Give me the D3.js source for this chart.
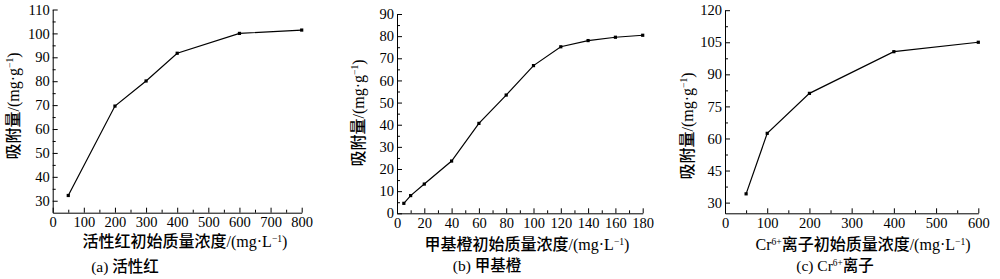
<!DOCTYPE html>
<html>
<head>
<meta charset="utf-8">
<script src="https://cdn.jsdelivr.net/npm/d3@7/dist/d3.min.js"></script>
<style>
body { margin: 0; background: #fff; }
</style>
</head>
<body>
<script>
// Size of the whole figure
var width = 1000;
var height = 279;

// (a) 活性红
var aConc = [50, 200, 300, 400, 600, 800];
var aQ = [32.2, 69.6, 80.1, 91.7, 100.0, 101.4];
var aXTicks = [0, 100, 200, 300, 400, 500, 600, 700, 800];
var aYTicks = [30, 40, 50, 60, 70, 80, 90, 100, 110];

// (b) 甲基橙
var bConc = [5, 10, 20, 40, 60, 80, 100, 120, 140, 160, 180];
var bQ = [4.5, 8.0, 13.2, 23.6, 40.6, 53.4, 66.7, 75.2, 78.0, 79.5, 80.4];
var bXTicks = [0, 20, 40, 60, 80, 100, 120, 140, 160, 180];
var bYTicks = [0, 10, 20, 30, 40, 50, 60, 70, 80, 90];

// (c) Cr6+ 离子
var cConc = [50, 100, 200, 400, 600];
var cQ = [34.1, 62.4, 81.1, 100.6, 105.0];
var cXTicks = [0, 100, 200, 300, 400, 500, 600];
var cYTicks = [30, 45, 60, 75, 90, 105, 120];

var serif = "'Liberation Serif', 'Times New Roman', 'Noto Sans CJK SC', serif";

var svg = d3.select("body")
	.append("svg")
	.attr("width", width)
	.attr("height", height)
	.style("font-family", serif);

// panel settings (pixel placement of each plot)
var panels = [
	{
		conc: aConc, q: aQ, xTicks: aXTicks, yTicks: aYTicks,
		xDomain: [0, 800], yDomain: [25, 110],
		left: 52.7, right: 301.7, top: 9.5, bottom: 212.7,
		yTitle: [13, 106], xTitle: [185, 247], caption: [125, 272],
		xLabel: [["活性红初始质量浓度/(mg·L", false], ["−1", true], [")", false]],
		capLabel: [["(a) 活性红", false]]
	},
	{
		conc: bConc, q: bQ, xTicks: bXTicks, yTicks: bYTicks,
		xDomain: [0, 180], yDomain: [0, 90],
		left: 397, right: 642.7, top: 14, bottom: 213.3,
		yTitle: [358, 113], xTitle: [527, 250], caption: [487, 271],
		xLabel: [["甲基橙初始质量浓度/(mg·L", false], ["−1", true], [")", false]],
		capLabel: [["(b) 甲基橙", false]]
	},
	{
		conc: cConc, q: cQ, xTicks: cXTicks, yTicks: cYTicks,
		xDomain: [0, 600], yDomain: [25, 120],
		left: 725, right: 978.3, top: 10.2, bottom: 213.3,
		yTitle: [687, 126], xTitle: [863, 250], caption: [835, 271],
		xLabel: [["Cr", false], ["6+", true], ["离子初始质量浓度/(mg·L", false], ["−1", true], [")", false]],
		capLabel: [["(c) Cr", false], ["6+", true], ["离子", false]]
	}
];

var yLabel = [["吸附量/(mg·g", false], ["−1", true], [")", false]];

// write a label made of normal and superscript parts
function addParts(text, parts) {
	parts.forEach(function(p) {
		var t = text.append("tspan").text(p[0]);
		if (p[1]) {
			t.attr("font-size", "0.6em").attr("dy", "-0.55em");
		} else if (text.selectAll("tspan").size() > 1) {
			t.attr("dy", "0.33em");
		}
	});
}

// points halfway between the major ticks
function midTicks(ticks) {
	var m = [];
	for (var i = 0; i < ticks.length - 1; i++) m.push((ticks[i] + ticks[i + 1]) / 2);
	return m;
}

panels.forEach(function(p) {
	var x = d3.scaleLinear().domain(p.xDomain).range([p.left, p.right]);
	var y = d3.scaleLinear().domain(p.yDomain).range([p.bottom, p.top]);

	var g = svg.append("g");

	// minor ticks (inward, no labels)
	g.append("g")
		.attr("transform", "translate(0," + p.bottom + ")")
		.call(d3.axisBottom(x).tickValues(midTicks(p.xTicks)).tickSize(-3).tickFormat(""))
		.call(function(s) { s.select(".domain").remove(); });
	g.append("g")
		.attr("transform", "translate(" + p.left + ",0)")
		.call(d3.axisLeft(y).tickValues(midTicks(p.yTicks)).tickSize(-3).tickFormat(""))
		.call(function(s) { s.select(".domain").remove(); });

	// major axes
	g.append("g")
		.attr("transform", "translate(0," + p.bottom + ")")
		.call(d3.axisBottom(x).tickValues(p.xTicks).tickSize(-5).tickSizeOuter(0).tickPadding(4));
	g.append("g")
		.attr("transform", "translate(" + p.left + ",0)")
		.call(d3.axisLeft(y).tickValues(p.yTicks).tickSize(-5).tickSizeOuter(0).tickPadding(3));

	g.selectAll(".tick text")
		.attr("font-family", serif)
		.attr("font-size", 14.5)
		.attr("fill", "#000");
	g.selectAll(".domain, .tick line")
		.attr("stroke", "#000")
		.attr("stroke-width", 1);

	// the curve
	var line = d3.line()
		.x(function(d, i) { return x(p.conc[i]); })
		.y(function(d) { return y(d); });

	g.append("path")
		.datum(p.q)
		.attr("d", line)
		.attr("fill", "none")
		.attr("stroke", "#000")
		.attr("stroke-width", 1.2);

	g.selectAll("rect.pt")
		.data(p.q)
		.enter()
		.append("rect")
		.attr("class", "pt")
		.attr("x", function(d, i) { return x(p.conc[i]) - 1.6; })
		.attr("y", function(d) { return y(d) - 1.6; })
		.attr("width", 3.2)
		.attr("height", 3.2)
		.attr("fill", "#000");

	// y title
	var yt = g.append("text")
		.attr("transform", "translate(" + p.yTitle[0] + "," + p.yTitle[1] + ") rotate(-90)")
		.attr("text-anchor", "middle")
		.attr("dy", "0.35em")
		.attr("font-size", 16)
		.attr("font-weight", 500);
	addParts(yt, yLabel);

	// x title
	var xt = g.append("text")
		.attr("x", p.xTitle[0])
		.attr("y", p.xTitle[1])
		.attr("text-anchor", "middle")
		.attr("font-size", 16)
		.attr("font-weight", 500);
	addParts(xt, p.xLabel);

	// caption
	var ct = g.append("text")
		.attr("x", p.caption[0])
		.attr("y", p.caption[1])
		.attr("text-anchor", "middle")
		.attr("font-size", 15.5)
		.attr("font-weight", 500);
	addParts(ct, p.capLabel);
});
</script>
</body>
</html>
